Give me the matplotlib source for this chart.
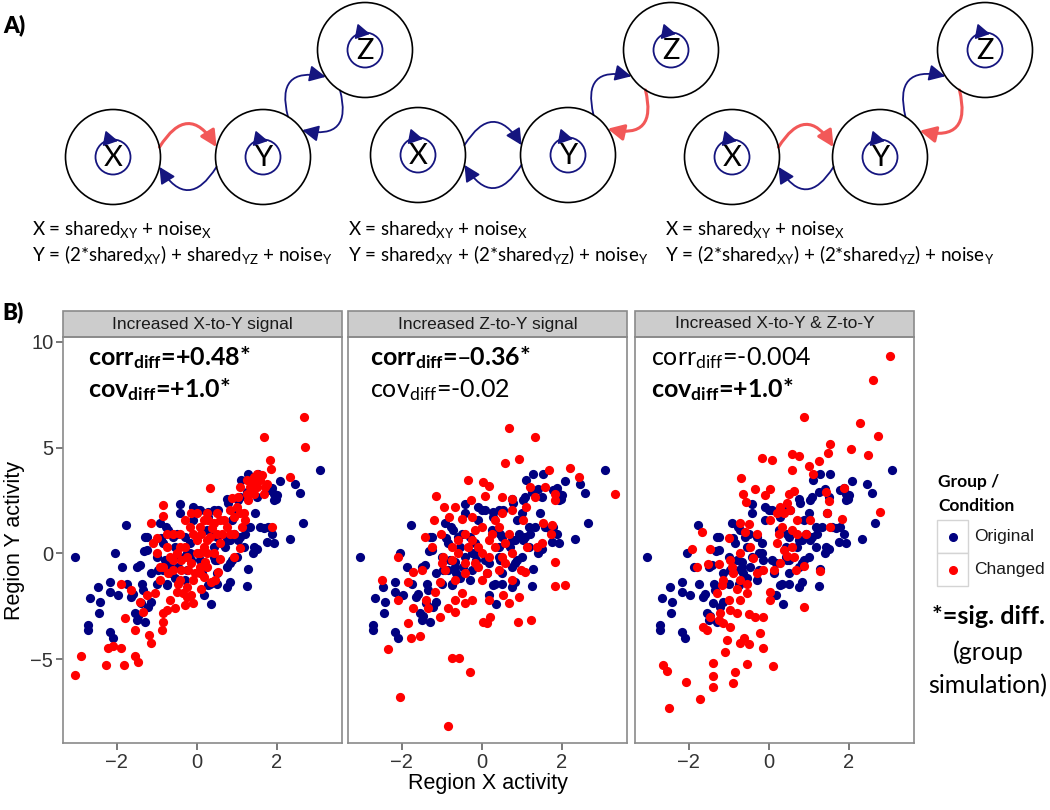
import numpy as np
import matplotlib
matplotlib.use("Agg")
import matplotlib.pyplot as plt
from matplotlib.patches import Circle, FancyArrowPatch, Rectangle

plt.rcParams["mathtext.default"] = "regular"
plt.rcParams["font.family"] = ["Liberation Sans", "DejaVu Sans"]

HUMANIST = ["Lato", "DejaVu Sans"]
NAVY = "#000080"
RED = "#ff0000"
LINE_NAVY = "#15157f"
LINE_RED = "#f25858"
BORDER = "#8a8a8a"

# ---- data: original group (same in every panel) ----
orig_x = [-3.04, -1.77, -2.04, -1.86, -1.50, -1.42, -1.29, -1.31, -1.00, -0.42,
          -0.08, 0.08, 0.29, 0.54, 0.79, 1.08, 1.29, 1.54, 1.46, 1.79,
          1.92, 2.07, 2.46, 2.58, 3.08, 2.65, 2.33, 1.92, 1.75, 1.67,
          1.92, 1.25, 0.83, 0.75, 0.35, 0.18, 0.33, 0.50, -0.25, -0.54,
          -0.75, -1.00, -1.33, -1.63, -1.96, -2.17, -2.17, -2.46, -2.67, -2.42,
          -2.43, -2.71, -2.71, -2.17, -2.08, -1.54, -1.50, -1.29, -1.21, -1.13,
          -1.13, -0.83, -0.67, -0.58, -0.71, -0.25, 0.08, 0.42, 0.75, 0.92,
          1.08, 1.33, 0.83, 0.50, 1.58, 2.00, 1.50, 1.42, 1.17, -0.42,
          -0.92, 0.25, 1.10, 1.40, 1.88, 1.97, 1.29, 1.40, 1.00, 0.75,
          0.42, 0.00, 1.25, 1.04, -1.73, -1.60, -1.36, -1.46, -1.38, 1.78,
          1.88, 1.50, -1.25, -1.25, -0.83, -0.50, -0.17, 0.17, 0.42, 0.50,
          0.83, 1.00, 0.75, 0.50, 0.29, -0.75, -0.67, -0.42, 1.17, 0.27,
          -0.08, -0.77, -0.88, -0.96, -0.79, -0.54, -0.29, -0.17, -0.13, -0.46,
          -0.63, -0.29, 0.13, 0.46, 0.71, 1.04, 1.21, 0.88, 0.46, 0.88]
orig_y = [-0.16, 1.34, 0.00, -0.63, -0.63, -0.55, 0.79, 0.13, -0.19, 2.33,
          2.20, 2.04, 1.97, 2.04, 2.39, 2.67, 3.73, 3.77, 1.89, 2.99,
          2.83, 3.41, 3.27, 2.86, 3.96, 1.42, 0.66, 0.47, 0.55, 1.18,
          2.52, -1.53, -1.34, -1.57, -2.39, -1.97, -1.42, -0.94, -0.79, -1.18,
          -1.45, -1.42, -1.73, -2.04, -1.97, -1.81, -1.34, -1.57, -2.12, -2.28,
          -2.83, -3.38, -3.62, -3.69, -4.01, -2.83, -3.14, -3.22, -2.52, -2.28,
          -0.94, -0.79, -0.39, 0.79, 1.10, 0.00, -0.31, 0.31, 0.63, 0.94,
          0.79, 1.26, -0.47, -0.31, 1.26, 2.75, 2.67, 0.31, 0.31, 1.89,
          1.42, 1.10, 3.46, 3.03, 3.07, 2.59, -0.75, 0.00, 1.89, 2.59,
          2.04, 2.04, 2.91, 2.52, -1.42, -1.93, -1.42, -2.96, -2.36, 1.26,
          0.94, 0.19, 0.16, 0.79, 0.47, 0.94, 0.00, -0.47, -0.16, 0.79,
          0.63, -0.16, -0.63, -1.42, -1.49, -1.49, -0.63, -0.16, 1.26, 1.73,
          1.57, 1.26, 0.71, -0.79, -0.31, 0.31, 0.79, 0.47, -0.31, -0.63,
          -0.94, -1.26, -0.94, -0.31, 0.31, 0.63, 0.94, -0.31, 0.94, 1.57]

# ---- data: changed group, one set per panel ----
xy_chg_x = [2.67, 2.71, 1.67, 1.83, 1.85, 2.33, 0.32, -0.83, -0.85, -1.13,
            -0.75, -1.00, 1.08, 1.88, -3.04, -2.88, -2.27, -2.21, -2.08, -1.88,
            -1.82, -1.54, -1.46, -1.54, -1.79, -1.88, -1.63, -1.42, -1.33, -1.18,
            -1.13, -0.86, -0.85, -0.83, -0.75, -0.53, -0.29, -0.08, -0.13, 0.11,
            0.35, 0.46, 0.54, -1.25, -1.04, -0.92, -0.83, -0.42, -0.29, -0.25,
            -0.13, 0.00, 0.08, 0.17, 0.25, 0.42, 0.50, 0.58, 0.75, 0.92,
            1.00, 1.04, 1.17, 1.21, 1.08, 1.25, 1.42, 1.50, 1.58, 1.71,
            1.75, 1.42, 1.29, 0.92, 0.58, 0.25, 0.08, -0.08, -0.25, -0.42,
            -0.58, -0.67, -0.50, -0.38, -0.33, -0.46, -0.71, -0.92, -1.00, -1.08,
            -0.75, -0.58, -0.17, 0.33, 0.17, 0.00, 0.42, 0.67, 0.83, 0.25,
            -0.08, 0.08, 0.50, 1.12, 1.42, 1.62, 0.88, -0.29, -0.13, 0.00,
            0.12, 0.29, 0.38, 0.58, 0.62, -0.42, -0.58, -0.38, -0.21, -0.04,
            0.17, -0.50, -0.67, -0.25, 0.08, 0.25, 0.21, 0.83, 1.08, 1.33,
            1.50, 1.67, 1.25, 1.38, 0.92]
xy_chg_y = [6.45, 5.03, 5.50, 4.40, 4.01, 3.62, 3.07, 2.28, 1.76, 1.42,
            0.94, 0.71, 0.24, 1.26, -5.74, -4.84, -5.27, -4.48, -4.37, -4.48,
            -5.27, -4.84, -5.11, -3.62, -3.07, -1.45, -1.73, -2.28, -2.75, -3.85,
            -4.25, -3.62, -3.22, -2.83, -2.67, -2.59, -2.44, -2.36, -1.97, -1.70,
            -1.34, -1.26, -0.86, -1.97, -1.89, -1.26, -0.63, 0.94, 0.31, -0.16,
            -0.47, 0.63, 1.26, 1.57, 1.89, 1.42, 0.94, 0.47, 1.26, 1.73,
            2.20, 2.67, 1.89, 1.57, 3.14, 3.46, 3.62, 3.77, 3.46, 3.14,
            3.30, 2.83, 2.52, -0.16, -0.24, -0.63, -0.94, -1.26, -1.57, -1.26,
            -0.79, -0.16, 0.00, -0.79, -1.89, -1.42, -0.94, -0.63, 0.00, 0.47,
            0.31, 0.94, 1.26, 0.79, 0.31, 0.00, 0.00, 1.57, 0.94, 0.63,
            0.94, -0.63, 1.89, 1.26, 3.30, 3.70, 2.60, 1.57, 1.89, 1.89,
            0.94, 1.57, 1.18, 1.57, 0.94, 0.31, -0.31, -0.31, -0.79, -0.94,
            -1.10, -1.81, -2.20, -2.04, 0.00, 0.00, -0.39, 2.04, 1.89, 3.14,
            3.14, 2.83, 2.83, 3.46, 0.94]

zy_chg_x = [0.67, 1.33, 0.93, 0.58, 1.67, 2.21, 2.43, 3.33, -0.33, 0.03,
            0.18, -1.13, -0.93, -0.67, -0.81, -0.48, -0.27, 0.08, 0.50, 0.75,
            1.11, 1.04, 1.33, 1.21, 1.58, 1.82, 1.83, -1.20, -1.02, 1.54,
            1.75, 1.73, 1.50, 1.38, 1.13, 1.83, 0.98, 1.08, 1.82, 2.08,
            0.92, 0.68, 0.54, 0.17, 0.21, 0.13, 0.04, 0.90, 1.23, -2.08,
            -2.48, -2.08, -1.85, -1.77, -1.54, -2.33, -1.71, -1.83, -1.71, -1.50,
            -1.04, -1.17, -1.38, -1.35, -1.04, -0.75, -0.56, -0.29, -2.04, -0.85,
            -0.83, -0.67, -0.50, -0.25, -0.67, -0.42, -0.96, -0.75, -0.58, -0.42,
            -0.25, -0.08, 0.17, 0.33, 0.50, 0.75, 0.33, 0.50, 0.67, -0.17,
            -0.42, -0.67, 0.13, 0.42, 0.75, -0.92, 0.00, -0.25, 0.75, -1.42,
            -1.25, -0.58, -0.33, 0.00, 0.17, 0.25, -0.08, 0.58, 0.42, -0.75,
            -1.00, -0.42, 0.00, 0.58, -0.17]
zy_chg_y = [5.90, 5.50, 4.45, 4.25, 3.96, 4.04, 3.62, 2.83, 3.49, 3.38,
            3.18, 2.70, 2.20, 2.20, 1.73, 1.65, 2.52, 2.70, 2.67, 2.56,
            2.20, 1.57, 2.67, 3.14, 3.14, 2.83, 2.52, 1.57, 0.94, 1.42,
            1.34, 0.94, 0.47, 0.31, 0.31, -0.39, -0.79, -0.86, -1.54, -1.49,
            -2.04, -2.36, -1.97, -2.20, -2.99, -3.30, -3.22, -3.22, -3.14, -0.16,
            -1.26, -2.20, -3.30, -4.01, -3.90, -4.53, -2.59, -1.34, -0.86, -0.79,
            -1.34, -1.81, -2.20, -2.59, -2.99, -4.95, -4.95, -5.58, -6.79, -8.14,
            -2.59, -2.20, -1.89, -2.20, -2.75, -2.36, -0.16, 0.31, 0.63, 0.94,
            0.63, 0.31, 0.63, 0.31, -0.16, 0.00, 1.57, 1.89, 0.94, -0.47,
            -0.94, -1.26, -0.94, -0.79, -1.26, -0.79, 1.26, 1.73, 2.04, 0.79,
            0.31, 0.00, 0.31, 0.00, -0.16, 0.94, -0.63, 0.47, 1.26, -0.31,
            -0.47, -0.47, -1.26, -0.47, 1.10]

both_chg_x = [3.04, 2.60, 0.89, 2.27, 2.73, 1.54, 2.06, 2.49, 1.48, 1.26,
              1.11, 0.58, 0.75, 0.59, 1.00, -0.16, 0.08, -0.69, -0.64, -0.33,
              0.03, -0.08, 0.63, -0.56, 1.88, 2.78, 1.82, 1.52, 1.46, 1.50,
              1.42, -1.67, -1.92, -1.46, -1.79, -1.52, -1.23, -0.99, -0.71, -0.50,
              -0.29, 0.04, 0.38, 0.46, 0.54, 0.71, 1.04, 0.92, 0.71, 0.25,
              0.21, 0.38, 0.58, 0.63, 0.29, 0.13, -0.13, -0.29, -0.54, -0.71,
              -0.88, -0.96, -0.71, -0.46, -1.13, -1.29, -1.46, -1.54, -1.13, -1.25,
              -0.96, -0.79, -0.96, -1.04, -1.08, -0.71, -0.61, -0.48, -0.21, -0.13,
              -0.13, -0.33, -0.50, -0.71, -0.54, 0.04, 0.04, 0.88, 0.88, 1.28,
              0.68, 0.11, -0.53, -0.85, -0.89, -1.39, -1.39, -1.38, -2.06, -1.71,
              -2.50, -2.65, -2.53, -1.63, -1.21, 0.33, 0.50, 0.29, 0.58, -0.60,
              -0.92, -1.00, -0.80, -1.17, 0.21, 0.46, -0.38]
both_chg_y = [9.31, 8.18, 6.42, 6.16, 5.55, 5.19, 4.94, 4.65, 4.75, 4.36,
              3.74, 4.69, 4.59, 3.96, 4.12, 4.51, 4.43, 3.54, 2.83, 3.02,
              3.03, 2.75, 2.94, 2.44, 3.07, 1.97, 1.65, 1.26, 1.92, 2.47,
              2.91, 0.99, 0.19, 0.19, -0.63, -0.52, -0.50, 0.71, 1.42, 1.38,
              0.94, 1.57, 1.89, 2.36, 2.04, 1.57, 1.57, 0.94, 0.94, 0.94,
              0.47, 0.16, 0.31, -0.16, -0.47, -0.79, -0.79, -0.94, -1.42, -1.26,
              -0.94, -0.31, 0.00, 0.31, -1.26, -1.89, -2.99, -3.62, -3.30, -3.14,
              -2.67, -2.83, -3.46, -4.09, -4.64, -4.25, -4.01, -4.29, -3.77, -4.48,
              -2.99, -2.99, -2.88, -2.20, -1.89, -1.81, -2.20, -2.52, -0.60, -0.82,
              -0.79, -5.31, -5.22, -5.58, -6.13, -5.19, -5.79, -6.29, -6.05, -6.89,
              -7.28, -5.27, -5.53, -3.46, -2.83, 1.26, 2.83, 2.20, 1.10, 1.00,
              -0.63, -2.20, -1.70, -1.50, 1.90, -0.10, -0.20]

panel_titles = ["Increased X-to-Y signal", "Increased Z-to-Y signal",
                "Increased X-to-Y & Z-to-Y"]
changed_x = [xy_chg_x, zy_chg_x, both_chg_x]
changed_y = [xy_chg_y, zy_chg_y, both_chg_y]
corr_text = [r"corr$_{diff}$=+0.48*", "corr$_{diff}$=\u20130.36*", r"corr$_{diff}$=-0.004"]
corr_bold = [True, True, False]
cov_text = [r"cov$_{diff}$=+1.0*", r"cov$_{diff}$=-0.02", r"cov$_{diff}$=+1.0*"]
cov_bold = [True, False, True]
x_ticks = [-2, 0, 2]
y_ticks = [-5, 0, 5, 10]

fig = plt.figure(figsize=(10.5, 8.1), dpi=100)

# ---- overlay in pixel coordinates for panel A and the side notes ----
ov = fig.add_axes([0, 0, 1, 1])
ov.set_xlim(0, 1050)
ov.set_ylim(810, 0)
ov.axis("off")

R_OUT, R_IN = 47.5, 17.5


def link(c1, c2, color, lw):
    c1, c2 = np.array(c1, float), np.array(c2, float)
    u = (c2 - c1) / np.hypot(*(c2 - c1))
    n = np.array([u[1], -u[0]])
    phi = np.radians(12)
    p1 = c1 + R_OUT * (np.cos(phi) * u + np.sin(phi) * n)
    p2 = c2 + R_OUT * (-np.cos(phi) * u + np.sin(phi) * n)
    ov.add_patch(FancyArrowPatch(p1, p2, connectionstyle="arc3,rad=-0.8",
                                 arrowstyle="-|>,head_length=0.7,head_width=0.35",
                                 mutation_scale=14, color=color, lw=lw,
                                 shrinkA=0, shrinkB=0))


def node(c, label):
    ov.add_patch(Circle(c, R_OUT, fill=False, ec="black", lw=1.2))
    ov.add_patch(Circle(c, R_IN, fill=False, ec=LINE_NAVY, lw=1.3))
    ov.add_patch(FancyArrowPatch((c[0] - 3, c[1] - R_IN), (c[0] + 5, c[1] - R_IN + 1.5),
                                 arrowstyle="-|>,head_length=0.7,head_width=0.4",
                                 mutation_scale=12, color=LINE_NAVY, lw=1.2,
                                 shrinkA=0, shrinkB=0))
    ov.text(c[0], c[1] + 1, label, ha="center", va="center", fontsize=21,
            family=HUMANIST)


diagrams = [
    # centres X, Y, Z ; colours X->Y, Y->X, Y->Z, Z->Y ; equation x
    (((113, 157), (263, 157), (365, 50)), ("r", "b", "b", "b"), 32,
     "Y = (2*shared$_{XY}$) + shared$_{YZ}$ + noise$_Y$"),
    (((418, 155), (568, 155), (671, 50)), ("b", "b", "b", "r"), 348,
     "Y = shared$_{XY}$ + (2*shared$_{YZ}$) + noise$_Y$"),
    (((732, 157), (880, 157), (985, 50)), ("r", "b", "b", "r"), 665,
     "Y = (2*shared$_{XY}$) + (2*shared$_{YZ}$) + noise$_Y$"),
]
for (cx, cy, cz), cols, ex, eq in diagrams:
    style = {"r": (LINE_RED, 2.2), "b": (LINE_NAVY, 1.3)}
    link(cx, cy, *style[cols[0]])
    link(cy, cx, *style[cols[1]])
    link(cy, cz, *style[cols[2]])
    link(cz, cy, *style[cols[3]])
    for c, lab in zip((cx, cy, cz), "XYZ"):
        node(c, lab)
    ov.text(ex, 230, "X = shared$_{XY}$ + noise$_X$", fontsize=13.5,
            family=HUMANIST, va="center")
    ov.text(ex, 254, eq, fontsize=13.5, family=HUMANIST, va="center")

ov.text(3, 25, "A)", fontsize=16, fontweight="heavy", family=HUMANIST, va="center")
ov.text(2, 312, "B)", fontsize=16, fontweight="heavy", family=HUMANIST, va="center")

# legend
ov.text(938, 482, "Group /", fontsize=12.5, fontweight="bold", family=HUMANIST, va="center")
ov.text(938, 506, "Condition", fontsize=12.5, fontweight="bold", family=HUMANIST, va="center")
for i, (col, lab) in enumerate([(NAVY, "Original"), (RED, "Changed")]):
    yk = 520 + i * 33
    ov.add_patch(Rectangle((937, yk), 31, 33, fc="white", ec="#d4d4d4", lw=1))
    ov.plot([952.5], [yk + 16.5], "o", color=col, ms=5.5)
    ov.text(974, yk + 16.5, lab, fontsize=12.5, va="center", color="#1a1a1a")
ov.text(988, 617, "*=sig. diff.", fontsize=18, fontweight="bold", family=HUMANIST,
        ha="center", va="center")
ov.text(988, 652, "(group", fontsize=18, family=HUMANIST, ha="center", va="center")
ov.text(988, 686, "simulation)", fontsize=18, family=HUMANIST, ha="center", va="center")

# ---- panel B ----
lefts = [63, 348, 635]
text_x = [0.09, 0.079, 0.058]
for i in range(3):
    ax = fig.add_axes([lefts[i] / 1050, 67 / 810, 279 / 1050, 406 / 810])
    ax.scatter(orig_x, orig_y, s=44, color=NAVY, lw=0, zorder=2)
    ax.scatter(changed_x[i], changed_y[i], s=44, color=RED, lw=0, zorder=3)
    ax.set_xlim(-3.34, 3.63)
    ax.set_ylim(-8.95, 10.22)
    ax.set_xticks(x_ticks)
    ax.set_xticklabels(["\u22122", "0", "2"])
    ax.set_yticks(y_ticks)
    ax.set_yticklabels(["\u22125", "0", "5", "10"])
    ax.tick_params(direction="out", length=5, width=1.1, color="#555555",
                   labelsize=14.5, labelcolor="#333333", pad=2)
    if i > 0:
        ax.tick_params(axis="y", left=False, labelleft=False)
    for sp in ax.spines.values():
        sp.set_color(BORDER)
        sp.set_linewidth(1.2)
    ax.add_patch(Rectangle((0, 1), 1, 26 / 406, transform=ax.transAxes,
                           fc="#cccccc", ec=BORDER, lw=1.2, clip_on=False))
    ax.text(0.5, 1 + 13 / 406, panel_titles[i], transform=ax.transAxes,
            ha="center", va="center", fontsize=12.5, color="#1a1a1a")
    ax.text(text_x[i], 0.931, corr_text[i], transform=ax.transAxes,
            fontsize=18, family=HUMANIST, va="baseline",
            fontweight="bold" if corr_bold[i] else "normal")
    ax.text(text_x[i], 0.852, cov_text[i], transform=ax.transAxes,
            fontsize=18, family=HUMANIST, va="baseline",
            fontweight="bold" if cov_bold[i] else "normal")
    if i == 0:
        ax.set_ylabel("Region Y activity", fontsize=15.5, labelpad=4)
    if i == 1:
        ax.set_xlabel("Region X activity", fontsize=15.5, labelpad=1)

fig.savefig("out.png", dpi=100)
